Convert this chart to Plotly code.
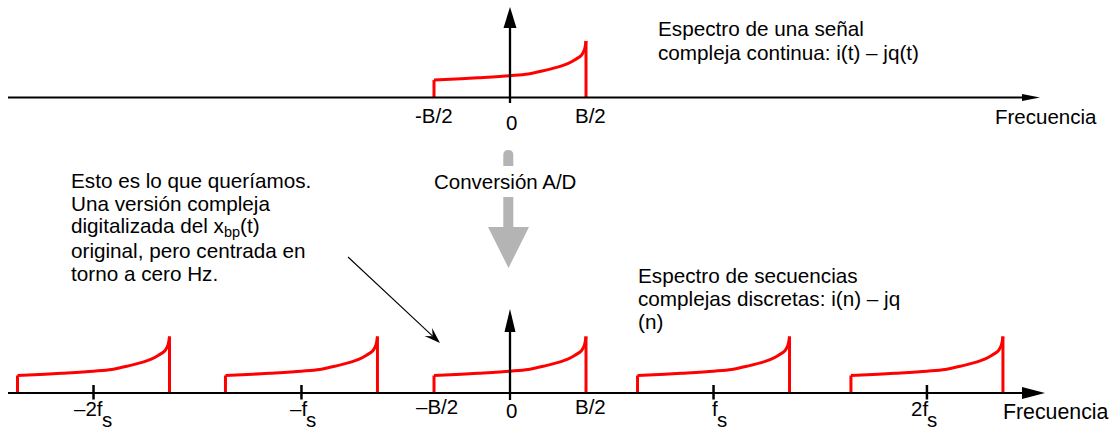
import plotly.graph_objects as go

W, H = 1116, 430

# ---------------- data ----------------
# One spectral replica: frequency offset (in units of B) and relative magnitude
replica_freq = [-0.5, -0.32, -0.21, 0.0, 0.12, 0.23, 0.34, 0.38, 0.425, 0.47, 0.49, 0.5]
replica_mag = [0.31, 0.333, 0.35, 0.386, 0.416, 0.48, 0.56, 0.60, 0.665, 0.75, 0.85, 1.0]

# Continuous complex signal: one replica centred on 0 Hz
top_centres = [0.0]
top_tick_pos = [-0.5, 0.0, 0.5]
top_tick_text = ["-B/2", "0", "B/2"]

# Discrete complex sequence: replicas repeated at multiples of fs
bottom_centres = [-2.74, -1.372, 0.0, 1.339, 2.743]
bottom_tick_pos = [-0.5, 0.0, 0.5]
bottom_tick_text = ["–B/2", "0", "B/2"]
fs_pos = [-2.74, -1.372, 1.339, 2.743]
fs_text = ["–2f", "–f", "f", "2f"]

top_note = ["Espectro de una señal", "compleja continua: i(t) – jq(t)"]
bottom_note = ["Espectro de secuencias", "complejas discretas: i(n) – jq", "(n)"]
left_note = [
    "Esto es lo que queríamos.",
    "Una versión compleja",
    "digitalizada del x<sub>bp</sub>(t)",
    "original, pero centrada en",
    "torno a cero Hz.",
]

# ---------------- layout geometry ----------------
ZERO_PX = 510.0        # horizontal pixel of 0 Hz
PX_PER_B = 152.0       # pixels per bandwidth B
PX_PER_MAG = 56.5      # pixels per unit magnitude
TOP_BASE = 97.5        # pixel row of the upper frequency axis
BOT_BASE = 393.0       # pixel row of the lower frequency axis

FONT = "Liberation Sans, Arial, sans-serif"
FS = 20.5
NOTE_FS = 20.7
RED = "#ff0000"
GREY = "#b4b4b4"

# small horizontal nudges (px) for the tick labels
band_label_shift = [3, 1.5, 4]
fs_label_shift = [9, 6, 4, 1]


def px(x):
    return x / W


def py(y):
    return 1 - y / H


fig = go.Figure()


def add_replicas(centres, yaxis):
    for c in centres:
        xs = [c + f for f in replica_freq]
        fig.add_trace(go.Scatter(
            x=xs, y=replica_mag, mode="lines", yaxis=yaxis,
            line=dict(color=RED, width=3, shape="spline", smoothing=1.0),
            hoverinfo="skip", showlegend=False))
        fig.add_trace(go.Scatter(
            x=[xs[0], xs[0], None, xs[-1], xs[-1]],
            y=[0, replica_mag[0], None, replica_mag[-1], 0],
            mode="lines", yaxis=yaxis,
            line=dict(color=RED, width=3),
            hoverinfo="skip", showlegend=False))


add_replicas(top_centres, "y")
add_replicas(bottom_centres, "y2")

shapes = []


def line_px(x0, y0, x1, y1, width=2, color="black"):
    shapes.append(dict(type="line", xref="paper", yref="paper",
                       x0=px(x0), y0=py(y0), x1=px(x1), y1=py(y1),
                       line=dict(color=color, width=width)))


def poly_px(points, color="black"):
    d = "M " + " L ".join(f"{px(x)},{py(y)}" for x, y in points) + " Z"
    shapes.append(dict(type="path", xref="paper", yref="paper", path=d,
                       fillcolor=color, line=dict(width=0)))


# upper axes
line_px(8, TOP_BASE, 1024, TOP_BASE, 2)
poly_px([(1022, TOP_BASE - 3.6), (1040, TOP_BASE), (1022, TOP_BASE + 3.6)])
line_px(ZERO_PX, 103, ZERO_PX, 26, 2.3)
poly_px([(503.5, 28), (ZERO_PX, 7), (516.5, 28)])

# lower axes
line_px(8, BOT_BASE, 1024, BOT_BASE, 2)
poly_px([(1022, BOT_BASE - 6), (1045, BOT_BASE), (1022, BOT_BASE + 6)])
line_px(ZERO_PX, 400, ZERO_PX, 330, 2.3)
poly_px([(504.5, 332), (ZERO_PX, 309), (515.5, 332)])

# tick marks at multiples of fs
for p in fs_pos:
    shapes.append(dict(type="line", xref="x", yref="paper",
                       x0=p, x1=p, y0=py(385), y1=py(399.5),
                       line=dict(color="black", width=2.5)))

# grey conversion arrow
gx0, gx1 = 503.3, 513.3
grey_path = (
    f"M {px(gx0)},{py(227)} L {px(gx0)},{py(155)} "
    f"Q {px(gx0)},{py(150)} {px((gx0 + gx1) / 2)},{py(150)} "
    f"Q {px(gx1)},{py(150)} {px(gx1)},{py(155)} "
    f"L {px(gx1)},{py(227)} L {px(529)},{py(227)} "
    f"L {px(508.5)},{py(268)} L {px(488)},{py(227)} Z"
)
shapes.append(dict(type="path", xref="paper", yref="paper", path=grey_path,
                   fillcolor=GREY, line=dict(width=0), layer="below"))

# thin pointer from the note to the central replica
tail = (348, 257)
tip = (440, 343)
dx, dy = tip[0] - tail[0], tip[1] - tail[1]
n = (dx * dx + dy * dy) ** 0.5
ux, uy = dx / n, dy / n
nx, ny = -uy, ux
L, Wh, notch = 16, 5.5, 10
line_px(tail[0], tail[1], tip[0] - ux * notch, tip[1] - uy * notch, 1.1)
poly_px([
    tip,
    (tip[0] - ux * L + nx * Wh, tip[1] - uy * L + ny * Wh),
    (tip[0] - ux * notch, tip[1] - uy * notch),
    (tip[0] - ux * L - nx * Wh, tip[1] - uy * L - ny * Wh),
])

annotations = []


def text_px(x, y, text, xanchor="left", size=FS, bg=None, xref="paper", pad=0, xshift=0):
    a = dict(x=px(x) if xref == "paper" else x, y=py(y), xref=xref, yref="paper",
             text=text, showarrow=False, xanchor=xanchor, yanchor="middle",
             xshift=xshift,
             font=dict(family=FONT, size=size, color="black"),
             borderpad=pad, borderwidth=0)
    if bg:
        a["bgcolor"] = bg
    annotations.append(a)


# upper tick labels
for p, t, s in zip(top_tick_pos, top_tick_text, band_label_shift):
    text_px(p, 122.5 if t == "0" else 115.5, t, xanchor="center", xref="x",
            xshift=0 if t.startswith("-") else s)
text_px(995, 116.5, "Frecuencia")

# lower tick labels
for p, t, s in zip(bottom_tick_pos, bottom_tick_text, band_label_shift):
    text_px(p, 410 if t == "0" else 406.5, t, xanchor="center", xref="x", xshift=s)
for p, t, s in zip(fs_pos, fs_text, fs_label_shift):
    text_px(p, 408, t, xanchor="right", xref="x", xshift=s)
    text_px(p, 419.5, "s", xanchor="left", xref="x", xshift=s - 1)
text_px(1003, 411.5, "Frecuencia", size=21.3)

# notes
for i, t in enumerate(top_note):
    text_px(657.5, 29 + 23.2 * i, t, size=NOTE_FS)
for i, t in enumerate(bottom_note):
    text_px(637.5, 275 + 23.2 * i, t, size=NOTE_FS)
for i, t in enumerate(left_note):
    text_px(70.5, 180.5 + 23.2 * i, t, size=NOTE_FS)

text_px(504.5, 181.5, "Conversión A/D", xanchor="center", bg="white", pad=4)

fig.update_layout(
    width=W, height=H, autosize=False,
    margin=dict(l=0, r=0, t=0, b=0),
    paper_bgcolor="white", plot_bgcolor="white",
    showlegend=False,
    xaxis=dict(range=[(0 - ZERO_PX) / PX_PER_B, (W - ZERO_PX) / PX_PER_B],
               visible=False, fixedrange=True),
    yaxis=dict(range=[-(H - TOP_BASE) / PX_PER_MAG, TOP_BASE / PX_PER_MAG],
               visible=False, fixedrange=True),
    yaxis2=dict(range=[-(H - BOT_BASE) / PX_PER_MAG, BOT_BASE / PX_PER_MAG],
                visible=False, fixedrange=True, overlaying="y"),
    shapes=shapes,
    annotations=annotations,
)

fig.write_html("out.html", config=dict(displayModeBar=False))
